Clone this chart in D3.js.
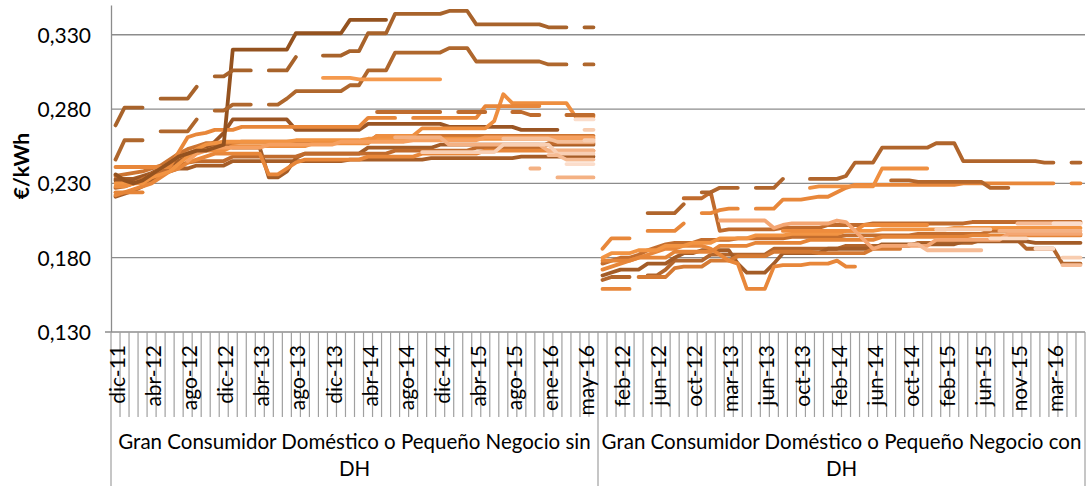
<!DOCTYPE html>
<html>
<head>
<meta charset="utf-8">
<script src="https://cdn.jsdelivr.net/npm/d3@7"></script>
<style>
  body { margin: 0; background: #fff; }
  text { font-family: Lato, "Open Sans", sans-serif; fill: #000; }
</style>
</head>
<body>
<div id="chart"></div>
<script>
var _ = null;

var grupos = ["Gran Consumidor Doméstico o Pequeño Negocio sin DH",
              "Gran Consumidor Doméstico o Pequeño Negocio con DH"];

var mesesSinDH = ["dic-11","ene-12","feb-12","mar-12","abr-12","may-12","jun-12","jul-12","ago-12",
  "sep-12","oct-12","nov-12","dic-12","ene-13","feb-13","mar-13","abr-13","may-13",
  "jun-13","jul-13","ago-13","sep-13","oct-13","nov-13","dic-13","ene-14","feb-14",
  "mar-14","abr-14","may-14","jun-14","jul-14","ago-14","sep-14","oct-14","nov-14",
  "dic-14","ene-15","feb-15","mar-15","abr-15","may-15","jun-15","jul-15","ago-15",
  "sep-15","oct-15","dic-15","ene-16","feb-16","mar-16","abr-16","may-16","jun-16"];

var mesesConDH = ["dic-11","ene-12","feb-12","mar-12","abr-12","may-12","jun-12","jul-12","ago-12",
  "sep-12","oct-12","nov-12","dic-12","ene-13","mar-13","abr-13","may-13","jun-13",
  "jun-13","jul-13","ago-13","sep-13","oct-13","nov-13","dic-13","ene-14","feb-14",
  "mar-14","abr-14","may-14","jun-14","jul-14","ago-14","sep-14","oct-14","nov-14",
  "dic-14","ene-15","feb-15","mar-15","abr-15","may-15","jun-15","jul-15","ago-15",
  "oct-15","nov-15","dic-15","ene-16","feb-16","mar-16","abr-16","may-16","jun-16"];

var yTicks = [0.130, 0.180, 0.230, 0.280, 0.330];

// precios en milésimas de €/kWh, 54 meses por grupo (filas de 9)
// --- sin DH ---
var sin01 = [221,223,225,228,232,236,238,240,240, 242,242,242,242,245,245,245,245,245,
  245,245,245,245,245,245,245,245,246, 246,246,246,246,246,246,246,246,247,
  247,247,247,247,247,247,247,247,247, 248,248,248,248,248,248,248,248,248];
var sin02 = [233,233,233,235,237,240,242,245,248, 252,254,255,255,254,254,254,254,234,
  234,238,247,250,250,250,250,250,250, 250,254,254,254,254,254,254,254,254,
  256,256,256,256,256,256,256,256,256, 256,256,256,256,256,256,256,256,256];
var sin03 = [232,232,232,234,236,240,244,248,250, 252,254,258,264,273,273,273,273,273,
  273,273,266,266,266,266,266,266,266, 266,270,270,270,270,270,270,270,270,
  270,268,268,268,268,268,268,268,268, 266,266,266,266,266,_,_,_,_];
var sin04 = [227,228,230,233,235,238,240,242,244, 245,245,245,245,248,248,248,248,248,
  248,248,248,250,250,250,250,250,250, 250,250,250,250,252,252,252,252,252,
  252,252,252,252,254,254,254,254,254, 254,254,254,257,257,257,257,257,257];
var sin05 = [235,236,237,238,240,242,246,250,253, 255,257,257,257,257,258,258,258,258,
  258,258,258,258,258,258,258,258,258, 258,258,262,262,262,262,262,262,262,
  262,262,262,262,262,262,262,262,262, 262,262,262,262,262,262,262,262,262];
var sin06 = [222,224,226,228,230,234,238,240,244, 246,248,250,250,250,250,250,250,236,
  236,240,244,246,246,246,246,246,246, 246,248,248,248,248,248,248,250,250,
  250,250,250,250,250,252,252,252,252, 252,252,252,252,252,252,252,252,252];
var sin07 = [230,230,230,230,234,236,238,243,248, 253,256,257,258,258,258,258,258,258,
  258,258,259,259,259,259,259,259,259, 259,260,260,260,260,260,260,260,260,
  260,260,260,260,260,260,260,260,260, 260,260,260,260,260,260,260,260,260];
var sin08 = [228,228,230,232,236,240,244,248,250, 252,252,252,252,255,255,255,255,255,
  255,255,255,255,257,257,257,257,257, 257,257,262,262,262,262,262,267,267,
  267,267,267,267,267,267,272,290,284, 284,284,284,284,284,284,275,275,275];
var sin09 = [241,241,241,241,241,241,241,251,261, 263,264,266,266,266,268,268,268,268,
  268,268,268,268,268,268,268,268,268, 268,274,274,274,274,_,274,274,274,
  274,274,274,274,274,282,282,282,282, 282,282,282,_,_,_,_,_,_];
var sin10 = [_,_,_,_,_,_,_,_,245, 250,252,254,254,254,254,254,254,256,
  256,256,256,256,256,256,256,258,258, 258,258,258,258,258,258,259,259,259,
  259,259,259,259,259,261,261,261,261, 261,261,261,261,261,261,261,261,261];
var sin11 = [224,224,224,224,_,_,_,_,_, _,_,_,_,_,_,_,_,_,
  _,_,_,_,_,_,_,_,_, _,_,_,_,_,_,_,_,_,
  _,_,_,_,_,_,_,_,_, _,_,_,_,_,_,_,_,_];
var sin12 = [236,232,230,232,236,240,244,248,250, 252,252,254,256,320,320,320,320,320,
  320,320,331,331,331,331,331,331,340, 340,340,340,340,_,_,_,_,_,
  _,_,_,_,_,_,_,_,_, _,_,_,_,_,_,_,_,_];
var sin13 = [269,281,281,281,_,287,287,287,287, 295,_,302,302,306,306,306,_,306,
  306,306,315,_,_,316,316,316,319, 319,331,331,331,344,344,344,344,344,
  344,346,346,346,337,337,337,337,337, 337,337,337,335,335,335,_,335,335];
var sin14 = [246,259,259,259,_,265,265,265,265, 273,_,279,279,283,283,283,_,283,
  283,287,292,292,292,292,292,292,296, 296,306,306,306,318,318,318,318,318,
  318,321,321,321,312,312,312,312,312, 312,312,312,310,310,310,_,310,310];
var sin15 = [_,_,_,_,_,_,_,_,_, _,_,_,_,_,_,_,_,_,
  _,_,_,_,_,301,301,301,301, 300,300,300,300,300,300,300,300,300,
  300,_,_,_,_,_,_,_,_, _,_,_,_,_,_,_,_,_];
var sin16 = [_,_,_,_,_,_,_,_,_, _,_,_,_,_,_,_,_,_,
  _,_,_,_,_,_,_,_,_, _,_,278,278,278,278,278,278,278,
  278,_,278,278,278,278,_,_,278, 278,276,276,_,_,276,276,276,276];
var sin17 = [_,_,_,_,_,_,_,_,_, _,_,_,_,_,_,_,_,_,
  _,_,_,_,_,_,_,_,_, _,_,_,_,261,261,261,261,261,
  261,256,256,256,256,256,256,256,256, 256,256,256,252,252,252,252,252,252];
var sin18 = [_,_,_,_,_,_,_,_,_, _,_,_,_,_,_,_,_,_,
  _,_,_,_,_,_,_,_,_, _,_,_,_,_,_,_,251,251,
  251,251,251,251,251,251,251,256,256, 256,256,256,256,250,250,250,250,250];
var sin19 = [_,_,_,_,_,_,_,_,_, _,_,_,_,_,_,_,_,_,
  _,_,_,_,_,_,_,_,_, _,_,_,_,_,_,_,_,_,
  _,_,_,_,_,_,_,260,260, 260,260,260,260,258,258,258,258,258];
var sin20 = [_,_,_,_,_,_,_,_,_, _,_,_,_,_,_,_,_,_,
  _,_,_,_,_,_,_,_,_, _,_,_,_,_,_,_,_,_,
  _,_,_,_,_,_,_,_,_, _,240,240,_,234,234,234,234,234];
var sin21 = [_,_,_,_,_,_,_,_,_, _,_,_,_,_,_,_,_,_,
  _,_,_,_,_,_,_,_,_, _,_,_,_,_,_,_,_,_,
  _,_,_,_,_,_,_,_,_, _,_,_,_,_,_,273,273,273];
var sin22 = [_,_,_,_,_,_,_,_,_, _,_,_,_,_,_,_,_,_,
  _,_,_,_,_,_,_,_,_, _,_,_,_,_,_,_,_,_,
  _,_,_,_,_,_,_,_,_, _,_,_,_,_,_,_,266,266];
var sin23 = [_,_,_,_,_,_,_,_,_, _,_,_,_,_,_,_,_,_,
  _,_,_,_,_,_,_,_,_, _,_,_,_,_,_,_,_,_,
  _,_,_,_,_,_,_,_,_, _,_,_,249,249,246,246,246,246];
var sin24 = [_,_,_,_,_,_,_,_,_, _,_,_,_,_,_,_,_,_,
  _,_,_,_,_,_,_,_,_, _,_,_,_,_,_,_,_,_,
  _,_,_,_,_,_,_,_,_, _,_,_,_,_,243,243,243,243];
var sin25 = [_,_,_,_,_,_,_,_,_, _,_,_,_,_,_,_,_,_,
  _,_,_,_,_,_,_,_,_, _,_,_,_,_,_,_,_,_,
  _,_,_,_,_,_,_,_,_, _,_,_,_,_,_,_,259,259];

// --- con DH ---
var con01 = [165,167,167,167,_,168,168,172,178, 178,178,178,182,182,182,182,182,182,
  182,186,186,186,186,186,186,186,186, 188,188,188,188,188,188,188,188,190,
  190,190,190,190,190,190,192,192,192, 192,192,186,186,186,186,176,176,176];
var con02 = [168,170,172,172,172,176,176,176,180, 183,183,185,185,185,185,176,170,170,
  170,176,183,183,183,183,183,186,186, 186,186,186,186,189,189,189,189,189,
  189,189,189,189,191,191,191,191,191, 191,191,191,190,190,190,190,190,190];
var con03 = [_,_,_,_,_,_,_,_,_, 220,220,220,224,198,199,199,199,199,
  199,199,200,200,200,200,200,202,202, 202,202,202,203,203,203,203,203,203,
  203,203,203,203,203,204,204,204,204, 204,204,204,204,204,204,204,204,204];
var con04 = [176,178,180,180,182,185,187,189,190, 190,190,192,192,192,192,193,193,193,
  193,193,193,194,194,194,194,194,194, 195,195,195,195,195,195,195,195,196,
  196,196,196,196,196,196,196,198,198, 198,198,198,198,198,198,196,196,196];
var con05 = [_,_,_,_,167,167,167,167,173, 174,174,174,178,178,178,181,181,181,
  181,184,184,184,184,184,183,183,183, 183,183,183,186,186,186,186,_,_,
  _,_,_,_,_,_,_,_,_, _,_,_,_,_,_,_,_,_];
var con06 = [172,174,176,178,180,182,184,186,186, 188,188,188,186,182,178,176,159,159,
  159,174,175,175,175,176,176,176,178, 174,174,_,_,_,_,_,_,_,
  _,_,_,_,_,_,_,_,_, _,_,_,_,_,_,_,_,_];
var con07 = [178,178,178,178,180,180,180,180,184, 184,184,184,184,188,188,188,188,190,
  190,190,190,190,190,192,192,192,192, 192,192,192,192,194,194,194,194,194,
  194,194,194,194,194,195,195,195,195, 195,195,195,195,195,195,195,195,195];
var con08 = [180,183,183,183,185,185,185,188,188, 188,190,190,190,193,193,193,193,195,
  195,195,195,196,196,196,196,196,196, 198,198,198,198,199,199,199,199,199,
  199,199,199,200,200,200,200,200,200, 200,200,200,200,200,200,200,200,200];
var con09 = [_,_,_,_,_,_,_,_,_, _,_,_,_,_,_,_,_,_,
  _,_,198,198,198,198,198,198,198, 198,198,202,202,202,202,202,202,202,
  202,_,_,_,_,_,_,_,_, _,_,_,_,_,_,_,_,_];
var con10 = [159,159,159,159,_,_,_,_,_, _,_,_,_,_,_,_,_,_,
  _,_,_,_,_,_,_,_,_, _,_,_,_,_,_,_,_,_,
  _,_,_,_,_,_,_,_,_, _,_,_,_,_,_,_,_,_];
var con11 = [_,_,_,_,_,210,210,210,210, 216,_,224,224,227,227,227,_,227,
  227,227,233,_,_,233,233,233,233, 235,244,244,244,254,254,254,254,254,
  254,257,257,257,245,245,245,245,245, 245,245,245,245,244,244,_,244,244];
var con12 = [186,193,193,193,_,198,198,198,198, 203,_,210,210,212,213,213,_,213,
  213,213,219,219,219,220,221,221,224, 227,229,229,229,229,229,229,229,229,
  229,229,229,229,230,230,230,230,230, 230,230,230,230,230,230,_,230,230];
var con13 = [_,_,_,_,_,_,_,_,_, _,_,_,_,_,_,_,_,_,
  _,_,_,_,_,227,228,228,228, 228,228,228,228,240,240,240,240,240,
  240,_,_,_,_,_,_,_,_, _,_,_,_,_,_,_,_,_];
var con14 = [_,_,_,_,_,_,_,_,_, _,_,_,_,_,_,_,_,_,
  _,_,_,_,_,_,_,_,_, _,_,_,_,_,232,232,232,231,
  231,231,231,231,231,231,231,227,227, 227,_,_,_,_,_,_,_,_];
var con15 = [_,_,_,_,_,_,_,_,_, _,_,_,_,205,205,205,205,205,
  205,200,202,203,203,203,203,203,205, 204,198,192,186,188,188,188,188,188,
  188,192,192,192,192,192,192,192,192, 196,196,196,196,196,196,196,196,196];
var con16 = [_,_,_,_,_,_,_,_,_, _,_,_,_,_,_,_,_,_,
  _,_,_,_,_,_,_,_,_, _,_,_,_,_,_,_,189,189,
  185,185,185,185,185,185,185,_,_, _,_,_,_,_,_,_,_,_];
var con17 = [_,_,_,_,_,_,_,_,_, _,_,_,_,_,_,_,_,_,
  _,_,_,_,_,_,_,_,_, _,_,_,_,_,_,_,_,_,
  _,_,_,_,_,_,_,193,193, 193,193,193,_,_,_,_,_,_];
var con18 = [_,_,_,_,_,_,_,_,_, _,_,_,_,_,_,_,_,_,
  _,_,_,_,_,_,_,_,_, _,_,_,_,_,_,_,_,_,
  _,_,_,_,_,_,_,_,_, _,203,203,203,203,203,203,203,203];
var con19 = [_,_,_,_,_,_,_,_,_, _,_,_,_,_,_,_,_,_,
  _,_,_,_,_,_,_,_,_, _,_,_,_,_,_,_,_,_,
  _,_,_,_,_,_,_,_,_, _,_,_,186,186,186,_,_,_];
var con20 = [_,_,_,_,_,_,_,_,_, _,_,_,_,_,_,_,_,_,
  _,_,_,_,_,_,_,_,_, _,_,_,_,_,_,_,_,_,
  _,_,_,_,_,_,_,_,_, _,_,_,_,_,_,180,180,180];
var con21 = [_,_,_,_,_,_,_,_,_, _,_,_,_,_,_,_,_,_,
  _,_,_,_,_,_,_,_,_, _,_,_,_,_,_,_,_,_,
  _,_,_,_,_,_,_,_,_, _,_,_,_,_,_,175,175,175];
var con22 = [_,_,_,_,_,_,_,_,_, _,_,_,_,_,_,_,_,_,
  _,_,_,_,_,_,_,_,_, _,_,_,_,_,_,_,_,_,
  _,199,199,199,199,199,199,199,_, _,_,_,_,_,_,_,_,_];
var con23 = [_,_,_,_,_,_,_,_,_, _,_,_,_,_,_,_,_,_,
  _,_,_,_,_,_,_,_,_, _,_,_,_,_,_,_,_,_,
  _,_,_,_,_,_,_,_,198, 198,198,198,198,198,198,198,198,198];
var con24 = [_,_,_,_,_,_,_,_,_, _,_,_,_,_,_,_,_,_,
  _,_,_,_,_,_,_,_,_, _,_,_,_,_,_,_,_,_,
  _,_,_,_,_,_,_,_,_, _,_,_,_,_,203,203,203,203];

var seriesSinDH = [sin01,sin02,sin03,sin04,sin05,sin06,sin07,sin08,sin09,sin10,sin11,sin12,sin13,
  sin14,sin15,sin16,sin17,sin18,sin19,sin20,sin21,sin22,sin23,sin24,sin25];
var seriesConDH = [con01,con02,con03,con04,con05,con06,con07,con08,con09,con10,con11,con12,
  con13,con14,con15,con16,con17,con18,con19,con20,con21,con22,con23,con24];

var coloresSin = ["#A65D27","#A35C27","#9A5524","#C06B2D","#CC7431","#E8873A","#F29443","#EE8E3F",
  "#E8873A","#F6A060","#E58538","#94521F","#A8632B","#AF672D","#F59A4E","#BF6C2E",
  "#F4B183","#F8CFB4","#F6C09A","#F4B183","#FBDDCB","#F8CDB0","#F6BC94","#FBDDCB","#F8CDB0"];
var coloresCon = ["#B3662C","#A35C27","#C06B2D","#C46E2E","#D57A33","#E8873A","#E58538","#F29443",
  "#EE8C3D","#E8873A","#B0652C","#E8873A","#EF8F40","#B4672C",
  "#F4A673","#F6BB95","#FBDCC8","#F6BB95","#FBDCC8","#F8CDB0","#F6BB95","#F8CDB0","#F4B183","#FBDDCB"];

var W = 1087, H = 486;
var plotL = 111, plotR = 1085, plotT = 5, plotB = 332;
var nPorGrupo = mesesSinDH.length;
var etiquetas = mesesSinDH.concat(mesesConDH);

var svg = d3.select("#chart").append("svg").attr("width", W).attr("height", H);

var x = d3.scaleBand().domain(d3.range(etiquetas.length)).range([plotL, plotR]);
var y = d3.scaleLinear().domain([0.13, 0.35]).range([plotB, plotT]);
var bw = x.bandwidth();

// gridlines
svg.append("g").selectAll("line").data(yTicks.slice(1)).join("line")
  .attr("x1", plotL).attr("x2", plotR)
  .attr("y1", function(d) { return y(d); }).attr("y2", function(d) { return y(d); })
  .attr("stroke", "#8c8c8c").attr("stroke-width", 1.3);

// y axis
var yAxis = svg.append("g").attr("transform", "translate(" + plotL + ",0)")
  .call(d3.axisLeft(y).tickValues(yTicks).tickSize(0).tickPadding(20)
    .tickFormat(function(d) { return d3.format(".3f")(d).replace(".", ","); }));
yAxis.attr("font-family", null).attr("font-size", null);
yAxis.select(".domain").attr("stroke", "#8c8c8c").attr("stroke-width", 1.3);
yAxis.selectAll("text").style("font-size", "21px").attr("dy", "0.36em");

svg.append("text")
  .attr("transform", "translate(22,166) rotate(-90)")
  .attr("text-anchor", "middle")
  .attr("dy", "0.35em")
  .style("font-size", "21px").style("font-weight", "bold")
  .text("€/kWh");

// category axis
svg.append("line").attr("x1", plotL - 6).attr("x2", plotR)
  .attr("y1", plotB).attr("y2", plotB)
  .attr("stroke", "#8c8c8c").attr("stroke-width", 1.3);

var bordes = d3.range(etiquetas.length + 1);
svg.append("g").selectAll("line").data(bordes).join("line")
  .attr("x1", function(k) { return plotL + k * bw; })
  .attr("x2", function(k) { return plotL + k * bw; })
  .attr("y1", plotB)
  .attr("y2", function(k) { return k % nPorGrupo == 0 ? H : 417; })
  .attr("stroke", "#a0a0a0").attr("stroke-width", 1.2);

var xAxis = svg.append("g").attr("transform", "translate(0," + plotB + ")")
  .call(d3.axisBottom(x).tickSize(0)
    .tickValues(d3.range(etiquetas.length).filter(function(i) { return i % 4 == 0; }))
    .tickFormat(function(i) { return etiquetas[i]; }));
xAxis.attr("font-family", null).attr("font-size", null);
xAxis.select(".domain").remove();
xAxis.selectAll("text")
  .attr("transform", "rotate(-90)")
  .attr("x", -13).attr("y", 2).attr("dy", "0.36em")
  .style("text-anchor", "end").style("font-size", "21px");

// group labels
function wrap(sel, width) {
  sel.each(function() {
    var t = d3.select(this), words = t.text().split(" "), line = [];
    var x0 = t.attr("x");
    t.text(null);
    var tsp = t.append("tspan").attr("x", x0);
    words.forEach(function(w) {
      line.push(w);
      tsp.text(line.join(" "));
      if (tsp.node().getComputedTextLength() > width && line.length > 1) {
        line.pop();
        tsp.text(line.join(" "));
        line = [w];
        tsp = t.append("tspan").attr("x", x0).attr("dy", 27).text(w);
      }
    });
  });
}

svg.append("g").selectAll("text").data(grupos).join("text")
  .attr("x", function(d, g) { return plotL + (g + 0.5) * nPorGrupo * bw; })
  .attr("y", 449)
  .attr("text-anchor", "middle")
  .style("font-size", "20.5px")
  .text(function(d) { return d; })
  .call(wrap, nPorGrupo * bw - 4);

// series
var linea = d3.line()
  .defined(function(d) { return d.v != null; })
  .x(function(d) { return x(d.i) + bw / 2; })
  .y(function(d) { return y(d.v / 1000); });

function dibujar(series, colores, offset) {
  svg.append("g").selectAll("path").data(series).join("path")
    .attr("d", function(s) {
      return linea(s.map(function(v, i) { return { i: offset + i, v: v }; }));
    })
    .attr("fill", "none")
    .attr("stroke", function(s, k) { return colores[k]; })
    .attr("stroke-width", 3.8)
    .attr("stroke-linecap", "round")
    .attr("stroke-linejoin", "round");
}
dibujar(seriesSinDH, coloresSin, 0);
dibujar(seriesConDH, coloresCon, nPorGrupo);
</script>
</body>
</html>
